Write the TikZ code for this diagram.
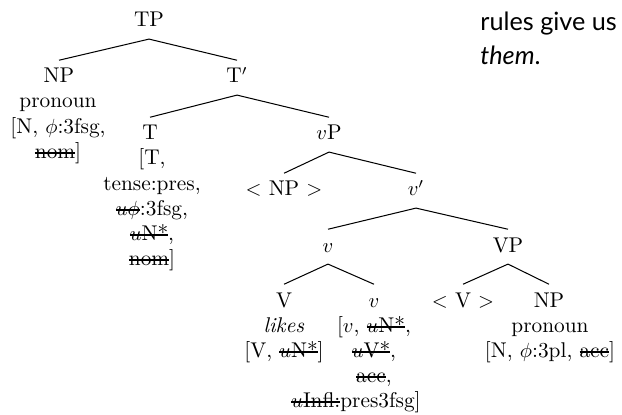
\documentclass[tikz,border=0pt]{standalone}
\usepackage{fontspec}
\newfontfamily\sidefont{Lato}
\newsavebox\stkbox
\newcommand{\stk}[1]{\sbox\stkbox{#1}\rlap{\rule[0.42ex]{\wd\stkbox}{0.85pt}}\usebox\stkbox}
\newcommand{\ftab}[1]{\begin{tabular}[t]{@{}c@{}}#1\end{tabular}}
\begin{document}
\begin{tikzpicture}[x=0.4878pt,y=-0.4878pt,
  treefont/.style={font=\fontsize{10.4}{12.2}\selectfont},
  lab/.style={treefont, anchor=base, text height=7.2pt, text depth=2pt, inner xsep=1pt, inner ysep=3.7pt},
  feat/.style={treefont, anchor=base, inner sep=0pt},
  br/.style={line width=0.5pt},
  side/.style={anchor=base west, inner sep=0pt, font=\sidefont\fontsize{12.3}{14}\selectfont}]
\useasboundingbox (0,0) rectangle (622,414);

\node[lab] (TP) at (149,27) {TP};
\node[lab] (NPa) at (59,83) {NP};
\node[lab] (Tbar) at (237,83) {T$'$};
\node[feat] (NPaf) at (58,108) {\ftab{pronoun\\{[}N, $\phi$:3fsg,\\\stk{nom}]}};

\node[lab] (T) at (150,140) {T};
\node[feat] (Tf) at (152,165) {\ftab{{[}T,\\tense:pres,\\\stk{$u\phi$}:3fsg,\\\stk{$u$N*},\\\stk{nom}]}};
\node[lab] (vP) at (329,140) {$v$P};

\node[lab] (NPt) at (284,196) {$<$ NP $>$};
\node[lab] (vbar) at (416,196) {$v'$};

\node[lab] (v) at (328,252) {$v$};
\node[lab] (VP) at (508,252) {VP};

\node[lab] (V) at (284,307) {V};
\node[feat] (Vf) at (284,332) {\ftab{\textit{likes}\\{[}V, \stk{$u$N*}]}};
\node[lab] (vv) at (374,307) {$v$};
\node[feat] (vvf) at (374,332) {\ftab{{[}$v$, \stk{$u$N*},\\\stk{$u$V*},\\\stk{acc},\\\hspace*{-17.6pt}\stk{$u$Infl:}pres3fsg]}};
\node[lab] (Vt) at (463,307) {$<$ V $>$};
\node[lab] (NPb) at (549,307) {NP};
\node[feat] (NPbf) at (550,332) {\ftab{pronoun\\{[}N, $\phi$:3pl, \stk{acc}]}};

\draw[br] (TP.south) -- (NPa.north);
\draw[br] (TP.south) -- (Tbar.north);
\draw[br] (Tbar.south) -- (T.north);
\draw[br] (Tbar.south) -- (vP.north);
\draw[br] (vP.south) -- (NPt.north);
\draw[br] (vP.south) -- (vbar.north);
\draw[br] (vbar.south) -- (v.north);
\draw[br] (vbar.south) -- (VP.north);
\draw[br] (v.south) -- (V.north);
\draw[br] (v.south) -- (vv.north);
\draw[br] (VP.south) -- (Vt.north);
\draw[br] (VP.south) -- (NPb.north);

\node[side] (s1) at (480,31) {rules give us};
\node[side] (s2) at (480,65) {\textit{them}.};
\end{tikzpicture}
\end{document}
